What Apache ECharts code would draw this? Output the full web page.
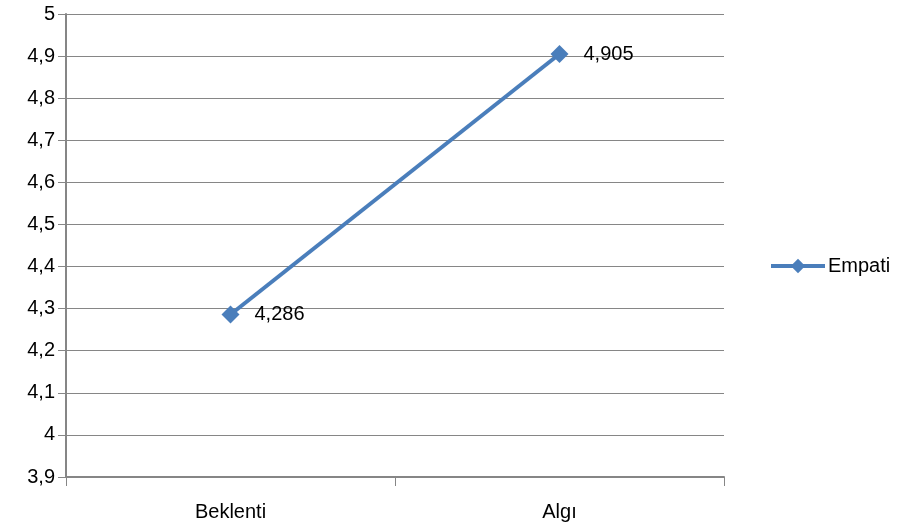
<!DOCTYPE html>
<html>
<head>
<meta charset="utf-8">
<script src="https://cdn.jsdelivr.net/npm/echarts@6/dist/echarts.min.js"></script>
<style>
html,body{margin:0;padding:0;background:#fff;}
#chart{width:900px;height:528px;}
</style>
</head>
<body>
<div id="chart"></div>
<script>
// Mean empathy scores: expectation vs. perception
const categories = ['Beklenti', 'Algı'];
const empatiValues = [4.286, 4.905];
const seriesName = 'Empati';

const fontFamily = '"Liberation Sans", "DejaVu Sans", sans-serif';
const commaNum = (v, digits) => {
  const s = Number(v.toFixed(digits)).toString();
  return s.replace('.', ',');
};

const chart = echarts.init(document.getElementById('chart'));
chart.setOption({
  animation: false,
  backgroundColor: '#ffffff',
  textStyle: { fontFamily },
  grid: { left: 66, right: 176, top: 14, bottom: 51, containLabel: false },
  legend: {
    data: [seriesName],
    orient: 'vertical',
    left: 764,
    top: 251,
    itemWidth: 54,
    itemHeight: 18,
    itemGap: 4,
    lineStyle: { width: 4 },
    textStyle: { fontSize: 20, color: '#000', fontFamily, padding: [0, 0, 0, -2] }
  },
  xAxis: {
    type: 'category',
    data: categories,
    boundaryGap: true,
    axisLine: { lineStyle: { color: '#868686', width: 2 } },
    axisTick: { show: true, length: 9, lineStyle: { color: '#868686', width: 1 } },
    axisLabel: { color: '#000', fontSize: 20, margin: 25, fontFamily }
  },
  yAxis: {
    type: 'value',
    min: 3.9,
    max: 5,
    interval: 0.1,
    axisLine: { show: true, lineStyle: { color: '#868686', width: 2 } },
    axisTick: { show: true, length: 8, lineStyle: { color: '#868686' } },
    splitLine: { lineStyle: { color: '#868686', width: 1 } },
    axisLabel: {
      color: '#000',
      fontSize: 20,
      margin: 11,
      fontFamily,
      formatter: v => commaNum(v, 1)
    }
  },
  series: [{
    name: seriesName,
    type: 'line',
    data: empatiValues,
    symbol: 'diamond',
    symbolSize: 18,
    itemStyle: { color: '#4A7EBB' },
    lineStyle: { color: '#4A7EBB', width: 4 },
    label: {
      show: true,
      position: 'right',
      distance: 15,
      color: '#000',
      fontSize: 20,
      fontFamily,
      formatter: p => commaNum(p.value, 3)
    }
  }]
});
</script>
</body>
</html>
